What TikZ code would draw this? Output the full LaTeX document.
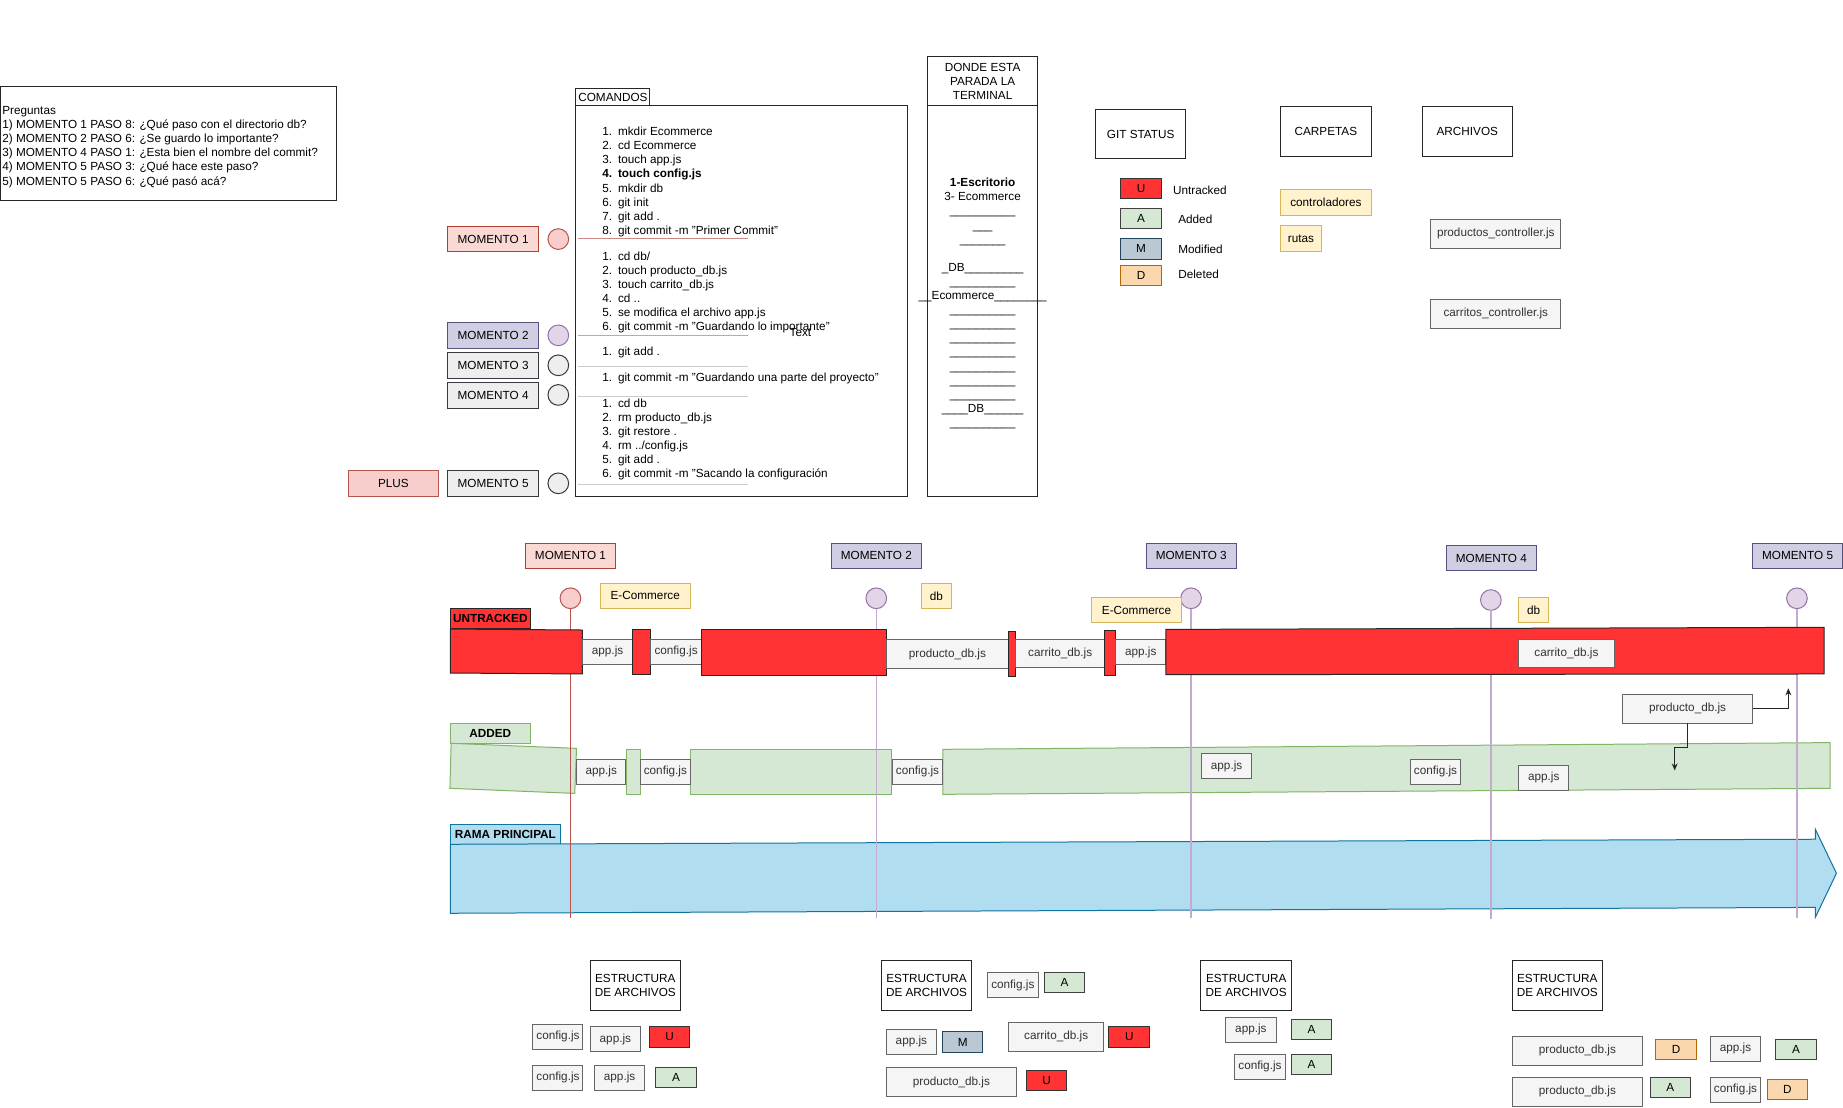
\documentclass[tikz,border=0pt]{standalone}
\usepackage{fontspec}
\setmainfont{Liberation Sans}
\usetikzlibrary{arrows.meta}

\definecolor{redfill}{HTML}{FF3333}
\definecolor{greenfill}{HTML}{D5E8D4}
\definecolor{greenline}{HTML}{82B366}
\definecolor{bluefill}{HTML}{B1DDF0}
\definecolor{blueline}{HTML}{10739E}
\definecolor{filefill}{HTML}{F5F5F5}
\definecolor{fileline}{HTML}{666666}
\definecolor{filetext}{HTML}{333333}
\definecolor{yelfill}{HTML}{FFF2CC}
\definecolor{yelline}{HTML}{D6B656}
\definecolor{pinkfill}{HTML}{FAD9D5}
\definecolor{pinkline}{HTML}{AE4132}
\definecolor{rosefill}{HTML}{F8CECC}
\definecolor{roseline}{HTML}{B85450}
\definecolor{lavfill}{HTML}{D0CEE2}
\definecolor{lavline}{HTML}{56517E}
\definecolor{purfill}{HTML}{E1D5E7}
\definecolor{purline}{HTML}{9673A6}
\definecolor{greyfill}{HTML}{EEEEEE}
\definecolor{greyline}{HTML}{36393D}
\definecolor{modfill}{HTML}{BAC8D3}
\definecolor{modline}{HTML}{23445D}
\definecolor{delfill}{HTML}{FAD7AC}
\definecolor{delline}{HTML}{B46504}
\definecolor{momline}{HTML}{C3ABD0}

% box from corner (x1,y1) to corner (x2,y2): name, style, x1, y1, x2, y2, text
\newcommand{\bx}[7]{\node[#2, minimum width={#5-#3}, minimum height={#6-#4}] (#1) at ({(#3+#5)/2},{(#4+#6)/2}) {#7};}
\newcommand{\uscore}[1]{\foreach \k in {1,...,#1}{\_}}

\begin{document}
\begin{tikzpicture}[x=1pt, y=-1pt, line width=0.85pt,
  every node/.append style={font=\fontsize{10}{12}\selectfont, inner sep=0pt, outer sep=0pt},
  plain/.style={draw=black!85, fill=white},
  filebox/.style={draw=fileline, fill=filefill, text=filetext},
  ubox/.style={draw=black!80, fill=redfill},
  abox/.style={draw=black!75, fill=greenfill},
  mbox/.style={draw=modline, fill=modfill},
  dbox/.style={draw=delline, fill=delfill},
  folder/.style={draw=yelline, fill=yelfill},
  momred/.style={draw=pinkline, fill=pinkfill},
  mompur/.style={draw=lavline, fill=lavfill},
  momgrey/.style={draw=greyline, fill=greyfill},
  plusbox/.style={draw=roseline, fill=rosefill},
  dot/.style={circle, minimum size=17.6pt},
  dotred/.style={dot, draw=roseline, fill=rosefill},
  dotpur/.style={dot, draw=purline, fill=purfill},
  dotgrey/.style={dot, draw=greyline, fill=greyfill},
  redblk/.style={draw=black!85, fill=redfill},
  greenblk/.style={draw=greenline, fill=greenfill},
  arr/.style={-{Stealth[length=6pt,width=5pt]}, black!85}
]
\useasboundingbox (0,0) rectangle (1568,942);

% ---------- questions ----------
\bx{preg}{plain}{0}{74}{286}{171}{}
\node[anchor=west, align=left] (pregtxt) at (2,125) {Preguntas\\
1) MOMENTO 1 PASO 8: ¿Qué paso con el directorio db?\\
2) MOMENTO 2 PASO 6: ¿Se guardo lo importante?\\
3) MOMENTO 4 PASO 1: ¿Esta bien el nombre del commit?\\
4) MOMENTO 5 PASO 3: ¿Qué hace este paso?\\
5) MOMENTO 5 PASO 6: ¿Qué pasó acá?};

% ---------- commands ----------
\bx{cmdlbl}{plain}{490}{75}{553}{90}{COMANDOS}
\bx{cmd}{plain}{490}{90}{772}{422}{}
\node[anchor=west] (blk1) at (512.5,155) {\begin{tabular}{@{}r@{\hspace{5pt}}l@{}}
1. & mkdir Ecommerce\\ 2. & cd Ecommerce\\ 3. & touch app.js\\ \textbf{4.} & \textbf{touch config.js}\\
5. & mkdir db\\ 6. & git init\\ 7. & git add .\\ 8. & git commit -m "Primer Commit"\end{tabular}};
\node[anchor=west] (blk2) at (512.5,249) {\begin{tabular}{@{}r@{\hspace{5pt}}l@{}}
1. & cd db/\\ 2. & touch producto\_db.js\\ 3. & touch carrito\_db.js\\ 4. & cd ..\\
5. & se modifica el archivo app.js\\ 6. & git commit -m "Guardando lo importante"\end{tabular}};
\node[anchor=west] (blk3) at (512.5,300) {\begin{tabular}{@{}r@{\hspace{5pt}}l@{}}1. & git add .\end{tabular}};
\node[anchor=west] (blk4) at (512.5,322) {\begin{tabular}{@{}r@{\hspace{5pt}}l@{}}1. & git commit -m "Guardando una parte del proyecto"\end{tabular}};
\node[anchor=west] (blk5) at (512.5,374) {\begin{tabular}{@{}r@{\hspace{5pt}}l@{}}
1. & cd db\\ 2. & rm producto\_db.js\\ 3. & git restore .\\ 4. & rm ../config.js\\
5. & git add .\\ 6. & git commit -m "Sacando la configuración\end{tabular}};
\node (txtlbl) at (681,283) {Text};

\coordinate (s1a) at (492,203);   \coordinate (s1b) at (636,203);
\coordinate (s2a) at (492,285.5); \coordinate (s2b) at (636,285.5);
\coordinate (s3a) at (492,311.6); \coordinate (s3b) at (636,311.6);
\coordinate (s4a) at (492,337);   \coordinate (s4b) at (636,337);
\coordinate (s5a) at (492,412);   \coordinate (s5b) at (636,412);
\draw[roseline!70] (s1a) -- (s1b);
\draw[purline!65] (s2a) -- (s2b);
\draw[black!20] (s3a) -- (s3b);
\draw[black!20] (s4a) -- (s4b);
\draw[black!20] (s5a) -- (s5b);

% ---------- terminal location ----------
\bx{termhead}{plain}{789}{48}{883}{90}{}
\node[align=center] (termheadtxt) at (836,69.5) {DONDE ESTA\\PARADA LA\\TERMINAL};
\bx{term}{plain}{789}{90}{883}{422}{}
\node[align=center] (termtxt) at (836,258.2) {\textbf{1-Escritorio}\\3- Ecommerce\\
\uscore{10}\\ \uscore{3}\\ \uscore{7}\\ \mbox{}\\
\_DB\uscore{9}\\ \uscore{10}\\ \uscore{2}Ecommerce\uscore{8}\\
\uscore{10}\\ \uscore{10}\\ \uscore{10}\\ \uscore{10}\\ \uscore{10}\\ \uscore{10}\\ \uscore{10}\\
\uscore{4}DB\uscore{6}\\ \uscore{10}};

% ---------- legend ----------
\bx{gitstatus}{plain}{932}{93}{1009}{135}{GIT STATUS}
\bx{lgU}{ubox}{953.5}{152}{988}{169.3}{U}
\bx{lgA}{abox}{953.5}{177.5}{988}{194.8}{A}
\bx{lgM}{mbox}{953.5}{203}{988}{220.4}{M}
\bx{lgD}{dbox}{953.5}{226}{988}{243.3}{D}
\node[anchor=west] (lgUt) at (998,161.6) {Untracked};
\node[anchor=west] (lgAt) at (1002.5,186.6) {Added};
\node[anchor=west] (lgMt) at (1002.5,212) {Modified};
\node[anchor=west] (lgDt) at (1002.5,233.4) {Deleted};
\bx{carpetas}{plain}{1089.6}{90.5}{1166.5}{133}{CARPETAS}
\bx{fctrl}{folder}{1089.6}{161}{1166.5}{183.2}{controladores}
\bx{frutas}{folder}{1089.6}{192}{1124}{213.8}{rutas}
\bx{archivos}{plain}{1210}{90.5}{1286.7}{133}{ARCHIVOS}
\bx{prodctrl}{filebox}{1217.2}{186.6}{1328}{211.3}{productos\_controller.js}
\bx{carrctrl}{filebox}{1217.2}{254.7}{1328}{279.3}{carritos\_controller.js}

% ---------- moments (left column) ----------
\bx{lm1}{momred}{381}{193}{458}{214}{MOMENTO 1}
\bx{lm2}{mompur}{381}{274.5}{458}{296.4}{MOMENTO 2}
\bx{lm3}{momgrey}{381}{300}{458}{322}{MOMENTO 3}
\bx{lm4}{momgrey}{381}{325.6}{458}{347.4}{MOMENTO 4}
\bx{lm5}{momgrey}{381}{400.4}{458}{422.6}{MOMENTO 5}
\bx{plus}{plusbox}{296.3}{400.4}{373.2}{422.6}{PLUS}
\node[dotred] (lc1) at (475,203.4) {};
\node[dotpur] (lc2) at (475,285.3) {};
\node[dotgrey] (lc3) at (475,310.8) {};
\node[dotgrey] (lc4) at (475,336) {};
\node[dotgrey] (lc5) at (475,411.2) {};

% ---------- staging band ----------
\bx{addedlbl}{greenblk}{383.1}{615.4}{451.2}{632.4}{\textbf{ADDED}}
\filldraw[greenblk] (383.8,632.4) -- (490.5,636.7) -- (489,675) -- (382.8,670.7) -- cycle;
\bx{g2}{greenblk}{532.8}{637.5}{544.6}{675.8}{}
\bx{g3}{greenblk}{587.6}{637.5}{758.8}{675.8}{}
\filldraw[greenblk] (802.1,637.5) -- (1557,631.8) -- (1557,670.7) -- (802.1,675.8) -- cycle;
\bx{ga1}{filebox}{490.5}{646}{532.5}{667.3}{app.js}
\bx{ga2}{filebox}{544.6}{646}{587.6}{667.3}{config.js}
\bx{ga3}{filebox}{759.1}{646}{802.1}{667.3}{config.js}
\bx{ga4}{filebox}{1022.3}{641}{1064.8}{662.5}{app.js}
\bx{ga5}{filebox}{1200}{646}{1242.6}{667.3}{config.js}
\bx{ga6}{filebox}{1292.2}{651}{1334.5}{672.4}{app.js}

% ---------- main branch ----------
\bx{ramalbl}{draw=blueline, fill=bluefill}{383.1}{701.3}{476.9}{718.3}{\textbf{RAMA PRINCIPAL}}
\filldraw[draw=blueline, fill=bluefill] (383.1,718.3) -- (1544.5,714) -- (1544.5,705.6) -- (1562.4,743)
  -- (1544.5,780.4) -- (1544.5,772) -- (383.1,777) -- cycle;

% ---------- moment markers ----------
\node[dotred] (tc1) at (485.3,509) {};
\node[dotpur] (tc2) at (745.5,509) {};
\node[dotpur] (tc3) at (1013.3,509) {};
\node[dotpur] (tc4) at (1268.4,510.5) {};
\node[dotpur] (tc5) at (1528.8,509) {};
\coordinate (te1) at (485.3,781);
\coordinate (te2) at (745.5,781);
\coordinate (te3) at (1013.3,781);
\coordinate (te4) at (1268.4,782);
\coordinate (te5) at (1528.8,781);
\draw[roseline, line width=0.7pt] (tc1.south) -- (te1);
\draw[momline, line width=1.1pt] (tc2.south) -- (te2);
\draw[momline, line width=1.1pt] (tc3.south) -- (te3);
\draw[momline, line width=1.1pt] (tc4.south) -- (te4);
\draw[momline, line width=1.1pt] (tc5.south) -- (te5);

% ---------- working tree band ----------
\bx{untrlbl}{redblk}{383.1}{517.8}{451.2}{534.6}{\textbf{UNTRACKED}}
\filldraw[redblk] (383.1,535.2) -- (495.4,536) -- (495.4,573.4) -- (383.1,572.6) -- cycle;
\bx{ua1}{filebox}{495.4}{544}{538.4}{565.2}{app.js}
\bx{r2}{redblk}{538.4}{535.2}{553.7}{574}{}
\bx{ua2}{filebox}{553.7}{544}{596.7}{565.2}{config.js}
\bx{r3}{redblk}{596.7}{535.5}{754}{574.5}{}
\bx{ua3}{filebox}{754}{544}{858}{569}{producto\_db.js}
\bx{r4}{redblk}{858}{536.9}{864}{575.7}{}
\bx{ua4}{filebox}{864}{544}{940}{568}{carrito\_db.js}
\bx{r5}{redblk}{940}{536}{949}{574.5}{}
\bx{ua5}{filebox}{949}{544}{992}{565.5}{app.js}
\filldraw[redblk] (992,535.5) -- (1552,533.7) -- (1552,573.4) -- (992,574) -- cycle;
\bx{ua6}{filebox}{1292}{544}{1373.3}{568}{carrito\_db.js}

% ---------- moment labels and folders ----------
\bx{tm1}{momred}{447}{462.3}{523.7}{483.5}{MOMENTO 1}
\bx{tm2}{mompur}{707.3}{462.3}{783.9}{483.5}{MOMENTO 2}
\bx{tm3}{mompur}{975.4}{462.3}{1051.6}{483.5}{MOMENTO 3}
\bx{tm4}{mompur}{1230.4}{464.2}{1307.2}{485.5}{MOMENTO 4}
\bx{tm5}{mompur}{1491.2}{462.3}{1567.6}{483.5}{MOMENTO 5}
\bx{fec1}{folder}{510.7}{496.3}{587.2}{517.5}{E-Commerce}
\bx{fdb1}{folder}{783.9}{496.3}{809.3}{517.5}{db}
\bx{fec2}{folder}{928.5}{508.5}{1005.4}{529.4}{E-Commerce}
\bx{fdb2}{folder}{1292}{508.5}{1317.5}{529.4}{db}

% ---------- restored file ----------
\bx{pdb}{filebox}{1380.5}{590.7}{1491}{615.4}{producto\_db.js}
\coordinate (pdbUp) at (1521.5,585.6);
\coordinate (pdbDown) at (1424.8,655.5);
\draw[arr] (pdb.east) -| (pdbUp);
\draw[arr] (pdb.south) -- ++(0,20.4) -| (pdbDown);

% ---------- file structure snapshots ----------
\bx{est1}{plain}{502.2}{816.8}{578.8}{859.3}{}
\node[align=center] (est1t) at (est1) {ESTRUCTURA\\DE ARCHIVOS};
\bx{e1f1}{filebox}{453.4}{871.5}{496}{892.7}{config.js}
\bx{e1f2}{filebox}{502.2}{873.5}{544.9}{894.8}{app.js}
\bx{e1s1}{ubox}{552.4}{873.5}{586.9}{890.8}{U}
\bx{e1f3}{filebox}{453.4}{906.3}{496}{927.6}{config.js}
\bx{e1f4}{filebox}{505.8}{906.3}{548.5}{927.6}{app.js}
\bx{e1s2}{abox}{557.9}{908.3}{592.4}{925.6}{A}

\bx{est2}{plain}{750}{816.8}{826.5}{859.3}{}
\node[align=center] (est2t) at (est2) {ESTRUCTURA\\DE ARCHIVOS};
\bx{e2f1}{filebox}{840.2}{827.2}{883.2}{848.8}{config.js}
\bx{e2s1}{abox}{888.4}{827.2}{922.9}{844.5}{A}
\bx{e2f2}{filebox}{754.2}{875.7}{796.6}{897}{app.js}
\bx{e2s2}{mbox}{802.1}{878}{836.3}{895.3}{M}
\bx{e2f3}{filebox}{858.1}{869.8}{939}{894.2}{carrito\_db.js}
\bx{e2s3}{ubox}{943.5}{873.5}{978.2}{890.8}{U}
\bx{e2f4}{filebox}{754.2}{908.3}{864.6}{933.3}{producto\_db.js}
\bx{e2s4}{ubox}{873.4}{910.9}{907.6}{928}{U}

\bx{est3}{plain}{1021.7}{816.8}{1098.8}{859.3}{}
\node[align=center] (est3t) at (est3) {ESTRUCTURA\\DE ARCHIVOS};
\bx{e3f1}{filebox}{1042.7}{865.5}{1085.8}{886.8}{app.js}
\bx{e3s1}{abox}{1098.8}{867.5}{1133}{884.8}{A}
\bx{e3f2}{filebox}{1050.4}{897}{1093.5}{918.2}{config.js}
\bx{e3s2}{abox}{1098.8}{897}{1133}{914.3}{A}

\bx{est4}{plain}{1286.6}{816.8}{1363.2}{859.3}{}
\node[align=center] (est4t) at (est4) {ESTRUCTURA\\DE ARCHIVOS};
\bx{e4f1}{filebox}{1286.6}{881.7}{1397.5}{906.4}{producto\_db.js}
\bx{e4s1}{dbox}{1408.8}{884.2}{1443.4}{901.8}{D}
\bx{e4f2}{filebox}{1455.2}{881.7}{1497.9}{903}{app.js}
\bx{e4s2}{abox}{1510.8}{884}{1545.1}{901}{A}
\bx{e4f3}{filebox}{1286.6}{916.5}{1397.5}{941.2}{producto\_db.js}
\bx{e4s3}{abox}{1404}{916.5}{1438.3}{933.6}{A}
\bx{e4f4}{filebox}{1455.2}{916.5}{1497.9}{937.8}{config.js}
\bx{e4s4}{dbox}{1503.5}{918.2}{1537.8}{935.6}{D}
\end{tikzpicture}
\end{document}
